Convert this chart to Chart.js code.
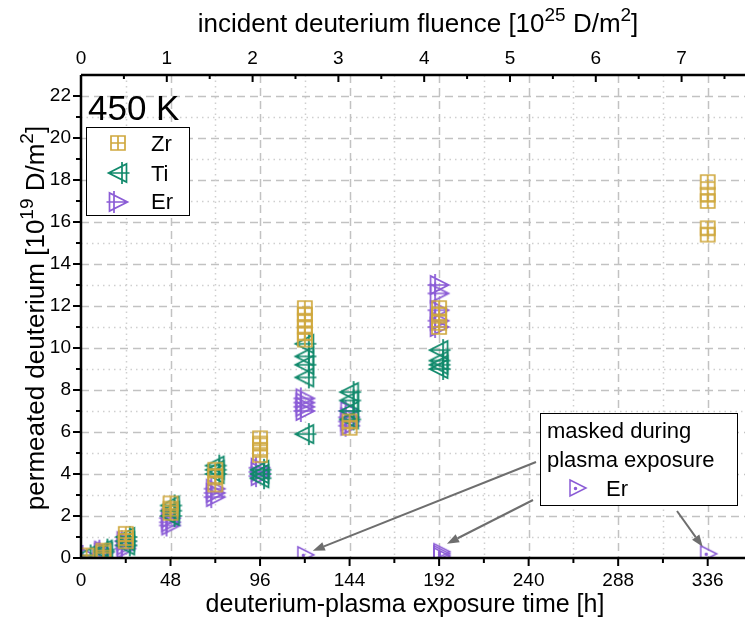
<!DOCTYPE html>
<html>
<head>
<meta charset="utf-8">
<script src="https://cdn.jsdelivr.net/npm/chart.js@4.4.1/dist/chart.umd.min.js"></script>
<style>
  html, body { margin: 0; padding: 0; background: #fff; overflow: hidden; }
  #permChart { display: block; }
</style>
</head>
<body>
<canvas id="permChart" width="745" height="632"></canvas>
<script>
// exposure time [h] / permeated deuterium [1e19 D/m^2]
const zrTime = [3, 12, 12, 24, 24, 24, 48, 48, 48, 72, 72, 72, 96, 96, 96, 96,
  120, 120, 120, 120, 120, 120, 144, 144, 192, 192, 192, 192, 336, 336, 336, 336, 336];
const zrPermeated = [0.12, 0.35, 0.25, 1.15, 0.95, 0.8, 2.6, 2.35, 2.15, 4.2, 3.9, 3.5, 5.7, 5.45, 5.15, 4.9,
  11.9, 11.6, 11.3, 11.0, 10.7, 10.4, 6.5, 6.2, 11.9, 11.6, 11.2, 11.0, 17.9, 17.3, 17.0, 15.7, 15.4];

const tiTime = [3, 12, 12, 24, 24, 24, 48, 48, 48, 72, 72, 72, 96, 96, 96,
  120, 120, 120, 120, 120, 144, 144, 144, 144, 192, 192, 192, 192];
const tiPermeated = [0.12, 0.4, 0.3, 1.0, 0.8, 0.6, 2.5, 2.25, 2.0, 4.4, 4.2, 4.0, 4.2, 4.0, 3.8,
  10.2, 9.6, 9.2, 8.6, 5.9, 7.9, 7.5, 7.0, 6.6, 9.9, 9.4, 9.2, 9.0];

const erTime = [3, 12, 12, 24, 24, 24, 48, 48, 48, 72, 72, 72, 96, 96, 96,
  120, 120, 120, 120, 144, 144, 144, 144, 192, 192, 192, 192, 192];
const erPermeated = [0.1, 0.35, 0.25, 0.8, 0.6, 0.45, 1.9, 1.7, 1.55, 3.3, 3.1, 2.9, 4.3, 4.1, 3.9,
  7.6, 7.4, 7.2, 7.0, 7.0, 6.7, 6.5, 6.3, 13.0, 12.6, 11.8, 11.3, 11.0];

// Er samples masked during plasma exposure
const erMaskedTime = [120, 193, 193, 193, 336];
const erMaskedPermeated = [0.15, 0.3, 0.2, 0.1, 0.2];

const timeTicks = [0, 48, 96, 144, 192, 240, 288, 336];
const fluenceTicks = [0, 1, 2, 3, 4, 5, 6, 7];
const permeatedTicks = [0, 2, 4, 6, 8, 10, 12, 14, 16, 18, 20, 22];

const TIME_MAX = 356;
const HOURS_PER_FLUENCE = 46; // 1e25 D/m^2 every 46 h
const FONT = '"Liberation Sans", Arial, sans-serif';
const ZR_COLOR = '#CFA83E';
const TI_COLOR = '#10896B';
const ER_COLOR = '#8B5CD6';

function makeMarker(kind, color) {
  const c = document.createElement('canvas');
  const s = kind === 'zr' ? 18 : 26;
  c.width = s; c.height = s;
  const g = c.getContext('2d');
  const m = s / 2;
  g.strokeStyle = color;
  g.fillStyle = color;
  g.lineWidth = 1.7;
  g.beginPath();
  if (kind === 'zr') {
    g.rect(m - 7, m - 7, 14, 14);
    g.moveTo(m, m - 7); g.lineTo(m, m + 7);
    g.moveTo(m - 7, m); g.lineTo(m + 7, m);
  } else if (kind === 'ti') {
    g.moveTo(m - 9.5, m); g.lineTo(m + 8.5, m - 9); g.lineTo(m + 8.5, m + 9); g.closePath();
    g.moveTo(m - 9.5, m); g.lineTo(m + 11.5, m);
    g.moveTo(m + 4, m - 11); g.lineTo(m + 4, m + 11);
  } else if (kind === 'er') {
    g.moveTo(m + 9.5, m); g.lineTo(m - 8.5, m - 9); g.lineTo(m - 8.5, m + 9); g.closePath();
    g.moveTo(m + 9.5, m); g.lineTo(m - 11.5, m);
    g.moveTo(m - 4, m - 11); g.lineTo(m - 4, m + 11);
  } else {
    g.lineWidth = 1.5;
    g.moveTo(m - 7, m - 8); g.lineTo(m + 9, m); g.lineTo(m - 7, m + 8); g.closePath();
    g.stroke();
    g.beginPath();
    g.arc(m - 1.5, m + 0.5, 1, 0, Math.PI * 2);
    g.fill();
  }
  g.stroke();
  return c;
}

const markers = {
  zr: makeMarker('zr', ZR_COLOR),
  ti: makeMarker('ti', TI_COLOR),
  er: makeMarker('er', ER_COLOR),
  masked: makeMarker('masked', ER_COLOR)
};

function toPoints(xs, ys) {
  return xs.map((x, i) => ({ x: x, y: ys[i] }));
}

// text with superscripts: parts = [[text, isSup], ...]
function drawRich(ctx, parts, x, y, size, align) {
  const supSize = Math.round(size * 0.74);
  let w = 0;
  parts.forEach(p => {
    ctx.font = (p[1] ? supSize : size) + 'px ' + FONT;
    w += ctx.measureText(p[0]).width;
  });
  let cx = align === 'center' ? x - w / 2 : x;
  ctx.textAlign = 'left';
  ctx.textBaseline = 'alphabetic';
  parts.forEach(p => {
    ctx.font = (p[1] ? supSize : size) + 'px ' + FONT;
    ctx.fillText(p[0], cx, p[1] ? y - size * 0.42 : y);
    cx += ctx.measureText(p[0]).width;
  });
}

function drawArrow(ctx, x1, y1, x2, y2) {
  const a = Math.atan2(y2 - y1, x2 - x1);
  const hl = 12, hw = 4.5;
  ctx.strokeStyle = '#6e6e6e';
  ctx.fillStyle = '#6e6e6e';
  ctx.lineWidth = 2;
  ctx.beginPath();
  ctx.moveTo(x1, y1);
  ctx.lineTo(x2 - hl * Math.cos(a), y2 - hl * Math.sin(a));
  ctx.stroke();
  ctx.beginPath();
  ctx.moveTo(x2, y2);
  ctx.lineTo(x2 - hl * Math.cos(a) + hw * Math.sin(a), y2 - hl * Math.sin(a) - hw * Math.cos(a));
  ctx.lineTo(x2 - hl * Math.cos(a) - hw * Math.sin(a), y2 - hl * Math.sin(a) + hw * Math.cos(a));
  ctx.closePath();
  ctx.fill();
}

const decorPlugin = {
  id: 'decor',
  beforeDatasetsDraw(chart) {
    const ctx = chart.ctx, area = chart.chartArea;
    const sx = chart.scales.x, sy = chart.scales.y;
    ctx.save();
    ctx.lineWidth = 1.5;
    for (let v = 1; v <= 22; v++) {
      const py = Math.round(sy.getPixelForValue(v)) + 0.5;
      ctx.strokeStyle = v % 2 ? '#cfcfcf' : '#c2c2c2';
      ctx.setLineDash(v % 2 ? [1.5, 4] : [8, 5]);
      ctx.beginPath(); ctx.moveTo(area.left, py); ctx.lineTo(area.right, py); ctx.stroke();
    }
    for (let v = 24; v < TIME_MAX; v += 24) {
      const px = Math.round(sx.getPixelForValue(v)) + 0.5;
      const major = v % 48 === 0;
      ctx.strokeStyle = major ? '#c2c2c2' : '#cfcfcf';
      ctx.setLineDash(major ? [8, 5] : [1.5, 4]);
      ctx.beginPath(); ctx.moveTo(px, area.top); ctx.lineTo(px, area.bottom); ctx.stroke();
    }
    ctx.restore();
  },
  afterDraw(chart) {
    const ctx = chart.ctx, area = chart.chartArea;
    const sx = chart.scales.x, sx2 = chart.scales.x2, sy = chart.scales.y;
    ctx.save();
    ctx.setLineDash([]);
    ctx.strokeStyle = '#000';
    ctx.fillStyle = '#000';

    // axis lines
    ctx.lineWidth = 2.5;
    ctx.beginPath();
    ctx.moveTo(area.left, area.top); ctx.lineTo(area.right, area.top);
    ctx.moveTo(area.left, area.top); ctx.lineTo(area.left, area.bottom + 1);
    ctx.moveTo(area.left - 1, area.bottom); ctx.lineTo(area.right, area.bottom);
    ctx.stroke();

    // tick marks
    ctx.lineWidth = 2;
    ctx.beginPath();
    for (let v = 0; v <= 22; v++) {
      const py = sy.getPixelForValue(v);
      ctx.moveTo(area.left, py); ctx.lineTo(area.left - (v % 2 ? 5 : 8), py);
    }
    for (let v = 24; v < TIME_MAX; v += 24) {
      const px = sx.getPixelForValue(v);
      ctx.moveTo(px, area.bottom); ctx.lineTo(px, area.bottom + (v % 48 ? 5 : 8));
    }
    for (let v = 0.5; v < sx2.max; v += 0.5) {
      const px = sx2.getPixelForValue(v);
      ctx.moveTo(px, area.top); ctx.lineTo(px, area.top + (v % 1 ? 4 : 7));
    }
    ctx.stroke();

    // axis titles
    drawRich(ctx, [['incident deuterium fluence [10', false], ['25', true], [' D/m', false], ['2', true], [']', false]],
      418, 32, 26, 'center');
    drawRich(ctx, [['deuterium-plasma exposure time [h]', false]], 405, 612, 25, 'center');
    ctx.save();
    ctx.translate(44, 318);
    ctx.rotate(-Math.PI / 2);
    drawRich(ctx, [['permeated deuterium [10', false], ['19', true], [' D/m', false], ['2', true], [']', false]],
      0, 0, 26, 'center');
    ctx.restore();

    // temperature label
    ctx.font = '35px ' + FONT;
    ctx.fillText('450 K', 88, 120);

    // legend
    ctx.fillStyle = '#fff';
    ctx.fillRect(86, 127, 103, 88);
    ctx.lineWidth = 1;
    ctx.strokeRect(86.5, 127.5, 103, 88);
    ctx.fillStyle = '#000';
    ctx.font = '22px ' + FONT;
    [['Zr', markers.zr, 143, 151], ['Ti', markers.ti, 173, 181], ['Er', markers.er, 202, 209]].forEach(e => {
      ctx.drawImage(e[1], 118 - e[1].width / 2, e[2] - e[1].height / 2);
      ctx.fillText(e[0], 151, e[3]);
    });

    // masked-sample note with arrows
    const pm = i => ({ x: sx.getPixelForValue(erMaskedTime[i]), y: sy.getPixelForValue(erMaskedPermeated[i]) });
    const p1 = pm(0), p2 = pm(1), p3 = pm(4);
    drawArrow(ctx, 536, 462, p1.x + 8, p1.y - 4);
    drawArrow(ctx, 533, 500, p2.x + 6, p2.y - 8);
    drawArrow(ctx, 677, 511, p3.x - 5, p3.y - 7);

    ctx.fillStyle = '#fff';
    ctx.fillRect(540, 413, 197, 92);
    ctx.strokeStyle = '#000';
    ctx.lineWidth = 1;
    ctx.strokeRect(540.5, 413.5, 197, 92);
    ctx.fillStyle = '#000';
    ctx.font = '22px ' + FONT;
    ctx.fillText('masked during', 547, 438);
    ctx.fillText('plasma exposure', 547, 467);
    ctx.drawImage(markers.masked, 577 - 13, 488 - 13);
    ctx.fillText('Er', 606, 496);
    ctx.restore();
  }
};

const tickFont = { family: FONT, size: 19 };

function pinSize(prop, size) {
  return s => {
    s[prop] = size;
    s.paddingLeft = 0; s.paddingRight = 0; s.paddingTop = 0; s.paddingBottom = 0;
  };
}

new Chart(document.getElementById('permChart'), {
  type: 'scatter',
  data: {
    datasets: [
      { label: 'Zr', data: toPoints(zrTime, zrPermeated), pointStyle: markers.zr, pointRadius: 7 },
      { label: 'Ti', data: toPoints(tiTime, tiPermeated), pointStyle: markers.ti, pointRadius: 10 },
      { label: 'Er', data: toPoints(erTime, erPermeated), pointStyle: markers.er, pointRadius: 10 },
      { label: 'Er masked', data: toPoints(erMaskedTime, erMaskedPermeated), pointStyle: markers.masked, pointRadius: 10 }
    ]
  },
  options: {
    responsive: false,
    animation: false,
    events: [],
    devicePixelRatio: 1,
    layout: { padding: 0, autoPadding: false },
    plugins: { legend: { display: false }, tooltip: { enabled: false } },
    scales: {
      x: {
        type: 'linear', position: 'bottom', min: 0, max: TIME_MAX,
        grid: { display: false, drawTicks: false },
        border: { display: false },
        ticks: { font: tickFont, color: '#000', padding: 11, maxRotation: 0 },
        afterBuildTicks: s => { s.ticks = timeTicks.map(v => ({ value: v })); },
        afterFit: pinSize('height', 74)
      },
      x2: {
        type: 'linear', position: 'top', axis: 'x', min: 0, max: TIME_MAX / HOURS_PER_FLUENCE,
        grid: { display: false, drawTicks: false },
        border: { display: false },
        ticks: { font: tickFont, color: '#000', padding: 5, maxRotation: 0 },
        afterBuildTicks: s => { s.ticks = fluenceTicks.map(v => ({ value: v })); },
        afterFit: pinSize('height', 75)
      },
      y: {
        type: 'linear', min: 0, max: 23,
        grid: { display: false, drawTicks: false },
        border: { display: false },
        ticks: { font: tickFont, color: '#000', padding: 10 },
        afterBuildTicks: s => { s.ticks = permeatedTicks.map(v => ({ value: v })); },
        afterFit: pinSize('width', 81)
      }
    }
  },
  plugins: [decorPlugin]
});
</script>
</body>
</html>
